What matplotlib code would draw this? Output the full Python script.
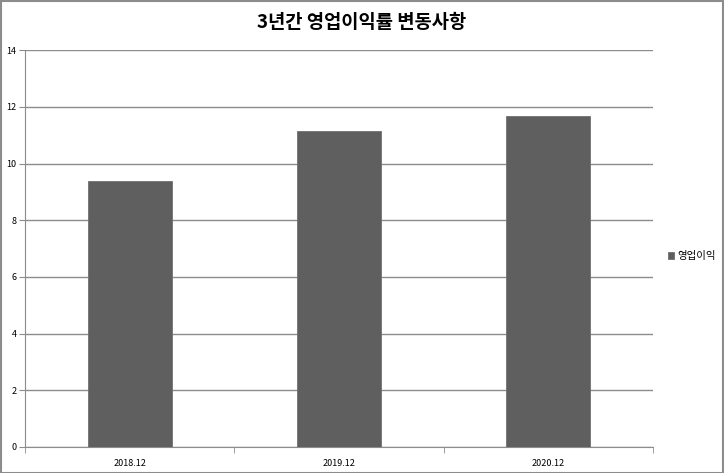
import matplotlib
matplotlib.use('Agg')
import matplotlib.pyplot as plt
from matplotlib.patches import Rectangle

plt.rcParams['font.family'] = ['Noto Sans CJK KR', 'DejaVu Sans']

categories = ['2018.12', '2019.12', '2020.12']
values = [9.38, 11.14, 11.68]
series_name = '영업이익'
title = '3년간 영업이익률 변동사항'

fig = plt.figure(figsize=(7.24, 4.73), dpi=100)
fig.patches.append(Rectangle((0.001, 0.001), 0.998, 0.997, transform=fig.transFigure,
                             fill=False, edgecolor='#8c8c8c', linewidth=1.5))
ax = fig.add_axes([0.0345, 0.055, 0.8675, 0.839])

x = range(len(categories))
ax.bar(x, values, width=0.4, color='#5f5f5f', edgecolor='#707070', linewidth=0.6,
       label=series_name, zorder=3)

ax.set_xlim(-0.5, 2.5)
ax.set_ylim(0, 14)
ax.set_yticks(range(0, 15, 2))
ax.set_xticks(x)
ax.set_xticklabels(categories, fontsize=6.5)
ax.tick_params(axis='y', labelsize=6.5, length=4, color='#8c8c8c', pad=2)
ax.tick_params(axis='x', length=0, pad=9)
# category boundary ticks
ax.set_xticks([-0.5, 0.5, 1.5, 2.5], minor=True)
ax.tick_params(axis='x', which='minor', length=4, color='#8c8c8c')

ax.yaxis.grid(True, color='#8c8c8c', linewidth=1)
ax.set_axisbelow(True)
for s in ['top', 'right']:
    ax.spines[s].set_visible(False)
ax.spines['left'].set_color('#8c8c8c')
ax.spines['bottom'].set_color('#8c8c8c')

fig.text(0.5, 0.953, title, ha='center', va='center', fontsize=13.5, fontweight='bold')

leg = fig.legend(loc='center left', bbox_to_anchor=(0.91, 0.458), frameon=False,
                 fontsize=7.5, handlelength=0.6, handleheight=0.6, handletextpad=0.3)

fig.savefig('out.png', dpi=100)
